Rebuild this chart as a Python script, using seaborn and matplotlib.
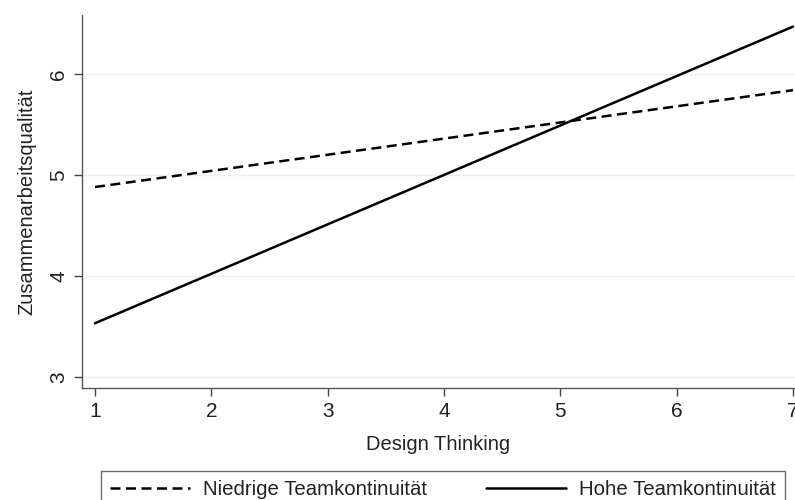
import pandas as pd
import numpy as np
import matplotlib.pyplot as plt
import seaborn as sns

# Werte
design_thinking = [1, 7]
niedrig = [4.88, 5.84]
hoch = [3.53, 6.47]
gruppen = ['Niedrige Teamkontinuität', 'Hohe Teamkontinuität']
x_ticks = [1, 2, 3, 4, 5, 6, 7]
y_ticks = [3, 4, 5, 6]

df = pd.DataFrame({
    'Design Thinking': design_thinking * 2,
    'Zusammenarbeitsqualität': niedrig + hoch,
    'Gruppe': [gruppen[0]] * 2 + [gruppen[1]] * 2,
})

sns.set_theme(style='white')
plt.rcParams['font.family'] = ['Liberation Sans', 'DejaVu Sans']

fig = plt.figure(figsize=(7.95, 5), dpi=100)
ax = fig.add_axes([82 / 795, 112 / 500, 1 - 82 / 795, 373 / 500])

sns.lineplot(data=df, x='Design Thinking', y='Zusammenarbeitsqualität',
             style='Gruppe', style_order=gruppen,
             dashes={gruppen[0]: (4, 2.2), gruppen[1]: ''},
             color='black', linewidth=1.8, ax=ax, legend=True)

ax.set_xlim(0.888, 7.017)
ax.set_ylim(2.888, 6.585)
ax.set_xticks(x_ticks)
ax.set_yticks(y_ticks)
ax.set_yticklabels([str(v) for v in y_ticks], rotation=90, va='center')
ax.tick_params(axis='both', which='both', direction='out', length=6, width=1,
               colors='#444444', labelcolor='#222222', labelsize=15,
               left=True, bottom=True, pad=4)
for s in ['top', 'right']:
    ax.spines[s].set_visible(False)
for s in ['left', 'bottom']:
    ax.spines[s].set_color('#555555')
    ax.spines[s].set_linewidth(1)
ax.grid(axis='y', color='#eeeeee', linewidth=1)
ax.set_axisbelow(True)
ax.set_xlabel('Design Thinking', fontsize=14.5, labelpad=10, color='#222222')
ax.set_ylabel('Zusammenarbeitsqualität', fontsize=14.5, labelpad=9, color='#222222')

handles, labels = ax.get_legend_handles_labels()
ax.get_legend().remove()
leg = fig.legend(handles, labels, loc='upper left',
                 bbox_to_anchor=(101 / 795, 29 / 500 - 0.2, 684 / 795, 0.2),
                 mode='expand', ncol=2, frameon=True, fancybox=False,
                 edgecolor='#444444', fontsize=14.7, handlelength=3.9,
                 handletextpad=0.65, borderaxespad=0, borderpad=0.45)
for t in leg.get_texts():
    t.set_color('#222222')
leg.get_frame().set_linewidth(1)

plt.savefig('out.png', dpi=100)
